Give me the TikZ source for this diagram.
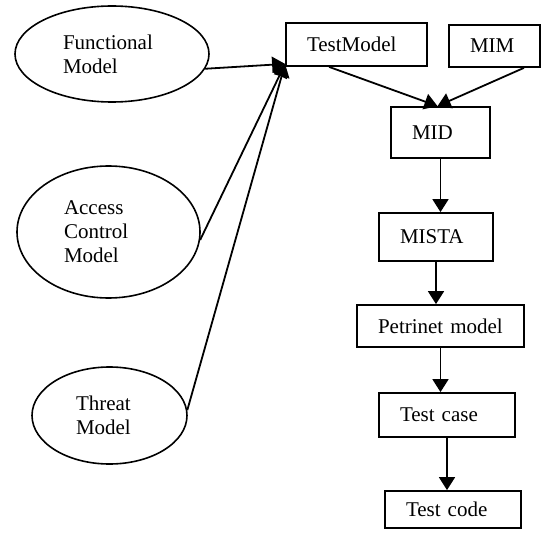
\documentclass[tikz,border=0pt]{standalone}
\usepackage{fontspec}
\setmainfont{Liberation Serif}
\usetikzlibrary{arrows.meta,shapes.geometric}

\begin{document}
\begin{tikzpicture}[x=0.5pt,y=-0.5pt]
\tikzstyle{every node} = [font=\fontsize{10.5}{12}\selectfont]
\tikzstyle{model} = [draw, ellipse, line width=0.8pt, inner sep=0pt, align=left]
\tikzstyle{box} = [draw, rectangle, line width=0.9pt, inner xsep=10.5pt, inner ysep=0pt, align=left]
\tikzstyle{arr} = [line width=0.9pt, -{Triangle[length=6.5pt,width=8pt]}]
\useasboundingbox (0,0) rectangle (541,540);
\path (112,54) node [model, minimum width=97pt, minimum height=48pt, text width=49pt] (func) {Functional\\Model}
		(108.5,232) node [model, minimum width=91.5pt, minimum height=66pt, text width=44.5pt] (acc) {Access\\Control\\Model}
		(109.5,415.5) node [model, minimum width=77.5pt, minimum height=48.5pt, text width=33.5pt] (threat) {Threat\\Model}
		(356.5,44.5) node [box, text width=49.5pt, minimum height=21.5pt] (tm) {TestModel}
		(494.5,46) node [box, text width=24.5pt, minimum height=21pt] (mim) {MIM}
		(440.5,132.5) node [box, text width=28.5pt, minimum height=25.5pt] (mid) {MID}
		(436,237) node [box, text width=36pt, minimum height=24pt] (mista) {MISTA}
		(440.5,326) node [box, text width=62.5pt, minimum height=21pt] (petri) {Petrinet model}
		(447,415) node [box, text width=47pt, minimum height=22pt] (tcase) {Test case}
		(453,509.5) node [box, text width=47pt, minimum height=18.5pt] (tcode) {Test code};

	\draw[arr] (func.-9) -- ([yshift=1.5pt]tm.south west);
	\draw[arr] (acc.-5) -- ([yshift=1.5pt]tm.south west);
	\draw[arr] (threat.4) -- ([yshift=1.5pt]tm.south west);
	\draw[arr] ([xshift=22pt]tm.south west) -- ([xshift=-1.5pt]mid.north);
	\draw[arr] ([xshift=-8.5pt]mim.south east) -- ([xshift=-1.5pt]mid.north);
	\draw[arr] (mid.south) -- (mid.south |- mista.north);
	\draw[arr] (mista.south) -- (mista.south |- petri.north);
	\draw[arr] (petri.south) -- (petri.south |- tcase.north);
	\draw[arr] (tcase.south) -- (tcase.south |- tcode.north);
\end{tikzpicture}
\end{document}
